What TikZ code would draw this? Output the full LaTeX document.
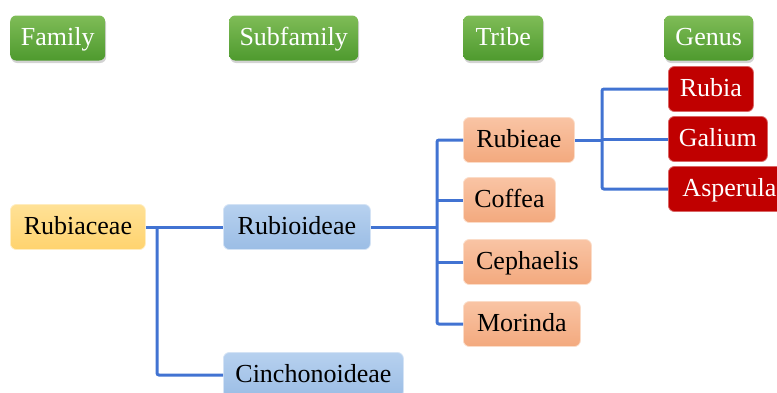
\documentclass[tikz,border=0pt]{standalone}
\usepackage{fontspec}
\setmainfont{Liberation Serif}
\usetikzlibrary{shadows}
\definecolor{hdrtop}{HTML}{7FBC57}
\definecolor{hdrbot}{HTML}{4E9A2E}
\definecolor{famtop}{HTML}{FFE196}
\definecolor{fambot}{HTML}{FFD36E}
\definecolor{subtop}{HTML}{B7D1EF}
\definecolor{subbot}{HTML}{9BBDE5}
\definecolor{tritop}{HTML}{F9C4A4}
\definecolor{tribot}{HTML}{F3A97E}
\definecolor{genred}{HTML}{C00000}
\definecolor{linkblue}{HTML}{4173D2}
\begin{document}
\begin{tikzpicture}[x=1pt,y=-1pt,
  box/.style={rounded corners=6pt, anchor=west, minimum height=45pt, inner sep=0pt,
    text height=19pt, text depth=4pt, font=\fontsize{26}{30}\selectfont},
  hdr/.style={box, top color=hdrtop, bottom color=hdrbot, text=white,
    drop shadow={opacity=0.35, shadow xshift=1pt, shadow yshift=-2.5pt}},
  fam/.style={box, top color=famtop, bottom color=fambot, draw=famtop!60!white, line width=0.8pt},
  sub/.style={box, top color=subtop, bottom color=subbot, draw=subtop!60!white, line width=0.8pt},
  tri/.style={box, top color=tritop, bottom color=tribot, draw=tritop!60!white, line width=0.8pt},
  gen/.style={box, fill=genred, text=white, draw=genred!60!white, line width=0.8pt},
  link/.style={draw=linkblue, line width=3pt, rounded corners=2pt}]
\useasboundingbox (0,0) rectangle (777,392);
\clip (0,0) rectangle (777,392);
% headers
\node[hdr, minimum width=95pt] (hfam) at (10,38) {Family};
\node[hdr, minimum width=129pt] (hsub) at (229,38) {Subfamily};
\node[hdr, minimum width=80pt] (htri) at (463,38) {Tribe};
\node[hdr, minimum width=89pt] (hgen) at (664,38) {Genus};
% nodes
\node[fam, minimum width=135pt] (rubiaceae) at (10,227) {Rubiaceae};
\node[sub, minimum width=147pt] (rubioideae) at (223,227) {Rubioideae};
\node[sub, minimum width=180pt] (cinch) at (223,375) {Cinchonoideae};
\node[tri, minimum width=111pt] (rubieae) at (463,140) {Rubieae};
\node[tri, minimum width=92pt] (coffea) at (463,200) {Coffea};
\node[tri, minimum width=128pt] (cephaelis) at (463,262) {Cephaelis};
\node[tri, minimum width=117pt] (morinda) at (463,324) {Morinda};
\node[gen, minimum width=85pt] (rubia) at (668,89) {Rubia};
\node[gen, minimum width=99pt] (galium) at (668,139) {Galium};
\node[gen, minimum width=122pt] (asperula) at (668,189) {Asperula};
% junctions
\coordinate (j1) at (157,227);
\coordinate (j2t) at (437,140);
\coordinate (j2b) at (437,324);
\coordinate (j3t) at (602,89);
\coordinate (j3b) at (602,189);
% connectors
\draw[link] (rubiaceae.east) -- (rubioideae.west);
\draw[link] (j1) |- (cinch.west);
\draw[link] (rubioideae.east) -- (rubioideae.east -| j2t);
\draw[link] (rubieae.west) -- (j2t) -- (j2b) -- (morinda.west);
\draw[link] (coffea.west) -- (coffea.west -| j2t);
\draw[link] (cephaelis.west) -- (cephaelis.west -| j2t);
\draw[link] (rubieae.east) -- (rubieae.east -| j3t);
\draw[link] (rubia.west) -- (j3t) -- (j3b) -- (asperula.west);
\draw[link] (galium.west) -- (galium.west -| j3t);
\end{tikzpicture}
\end{document}
